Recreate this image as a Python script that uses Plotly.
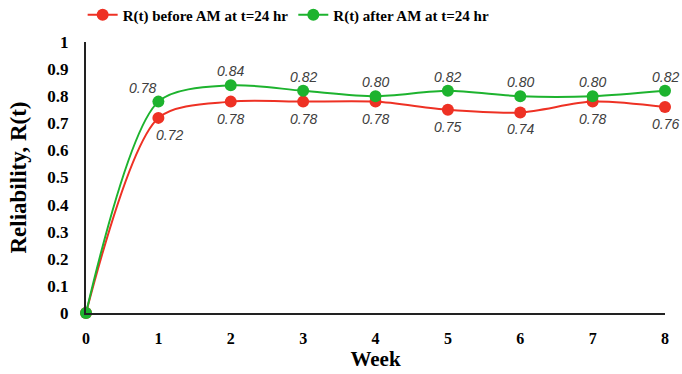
import plotly.graph_objects as go

weeks = [0, 1, 2, 3, 4, 5, 6, 7, 8]
r_before = [0, 0.72, 0.78, 0.78, 0.78, 0.75, 0.74, 0.78, 0.76]
r_after = [0, 0.78, 0.84, 0.82, 0.80, 0.82, 0.80, 0.80, 0.82]

RED = "#ee3124"
GREEN = "#1db32e"
LABEL_FONT = dict(family="Liberation Sans", size=14, color="#404040", style="italic")

fig = go.Figure()

fig.add_trace(go.Scatter(
    x=weeks, y=r_before, name="R(t) before AM at t=24 hr",
    mode="lines+markers", line=dict(color=RED, width=2, shape="spline", smoothing=0.8),
    marker=dict(size=12, color=RED), cliponaxis=False,
))
fig.add_trace(go.Scatter(
    x=weeks, y=r_after, name="R(t) after AM at t=24 hr",
    mode="lines+markers", line=dict(color=GREEN, width=2, shape="spline", smoothing=0.8),
    marker=dict(size=12, color=GREEN), cliponaxis=False,
))

# value labels: after-series above, before-series below (skip week 0)
for i, (w, v) in enumerate(zip(weeks, r_after)):
    if i == 0:
        continue
    xs = -16 if i == 1 else 0
    fig.add_annotation(x=w, y=v, text=f"{v:.2f}", showarrow=False,
                       xshift=xs, yshift=14, font=LABEL_FONT)
for i, (w, v) in enumerate(zip(weeks, r_before)):
    if i == 0:
        continue
    xs = 11 if i == 1 else 0
    fig.add_annotation(x=w, y=v, text=f"{v:.2f}", showarrow=False,
                       xshift=xs, yshift=-17, font=LABEL_FONT)

fig.update_layout(
    width=682, height=374,
    margin=dict(l=86, r=17, t=42, b=61, autoexpand=False),
    paper_bgcolor="white", plot_bgcolor="white",
    font=dict(family="Liberation Serif", color="#000000"),
    legend=dict(orientation="h", x=0.35, xanchor="center", xref="paper",
                y=0.96, yanchor="middle", yref="container",
                font=dict(family="Liberation Serif", size=15, weight="bold"),
                tracegroupgap=0),
    showlegend=True,
)

fig.update_xaxes(
    range=[0, 8], tickvals=weeks, showgrid=False, zeroline=False,
    showline=True, linecolor="#222222", linewidth=2, ticks="",
    tickfont=dict(family="Liberation Serif", size=16, weight="bold"), ticklabelstandoff=10,
    title=dict(text="Week", font=dict(family="Liberation Serif", size=21, weight="bold"), standoff=4),
)
fig.update_yaxes(
    range=[0, 1], tickvals=[i / 10 for i in range(11)],
    ticktext=["0", "0.1", "0.2", "0.3", "0.4", "0.5", "0.6", "0.7", "0.8", "0.9", "1"],
    showgrid=False, zeroline=False,
    showline=True, linecolor="#222222", linewidth=2, ticks="",
    tickfont=dict(family="Liberation Serif", size=17, weight="bold"), ticklabelstandoff=12,
    title=dict(text="Reliability, R(t)", font=dict(family="Liberation Serif", size=23, weight="bold"), standoff=14),
)

fig.write_html("out.html")
